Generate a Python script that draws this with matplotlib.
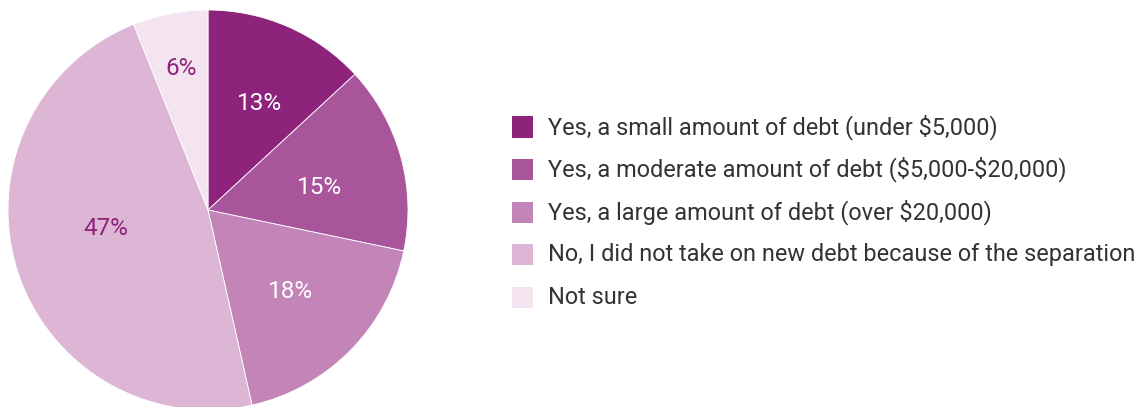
import numpy as np
import matplotlib.pyplot as plt
from matplotlib.patches import Rectangle

# Survey: did the separation lead to new debt?
categories = [
    "Yes, a small amount of debt (under $5,000)",
    "Yes, a moderate amount of debt ($5,000-$20,000)",
    "Yes, a large amount of debt (over $20,000)",
    "No, I did not take on new debt because of the separation",
    "Not sure",
]
shares = [13, 15, 18, 47, 6]
colors = ["#8D237B", "#A8559B", "#C385B8", "#DCB6D4", "#F4E4F0"]
label_colors = ["white", "white", "white", "#8D237B", "#8D237B"]
# label placement: fraction of radius, and small angular nudge (deg)
label_radius = [0.59, 0.57, 0.58, 0.52, 0.72]
label_nudge = [-2, -4, 0, -7, 0]

fig = plt.figure(figsize=(11.46, 4.07), dpi=100)
ax = fig.add_axes([8 / 1146, -3 / 407, 400 / 1146, 400 / 407])

wedges, texts = ax.pie(
    shares, colors=colors, startangle=90, counterclock=False,
    radius=1.0, wedgeprops=dict(edgecolor="white", linewidth=0.6),
)
ax.set_xlim(-1, 1)
ax.set_ylim(-1, 1)
ax.set_aspect("equal")

# percentage labels at the middle of each wedge
for w, val, r, d, c in zip(wedges, shares, label_radius, label_nudge, label_colors):
    mid = np.deg2rad((w.theta1 + w.theta2) / 2 + d)
    ax.text(r * np.cos(mid), r * np.sin(mid), f"{val}%", ha="center", va="center",
            fontsize=17.5, color=c, family="Roboto")

# legend drawn by hand so the swatches line up like a list
top = 127
step = 42.5
for i, (lab, col) in enumerate(zip(categories, colors)):
    yc = top + i * step
    fig.add_artist(Rectangle((512 / 1146, 1 - (yc + 10.5) / 407), 21 / 1146, 21 / 407,
                             transform=fig.transFigure, facecolor=col, edgecolor="none"))
    fig.text(548 / 1146, 1 - yc / 407, lab, ha="left", va="center", parse_math=False,
             fontsize=16.9, color="#333333", family="Roboto")

fig.savefig("out.png", dpi=100)
